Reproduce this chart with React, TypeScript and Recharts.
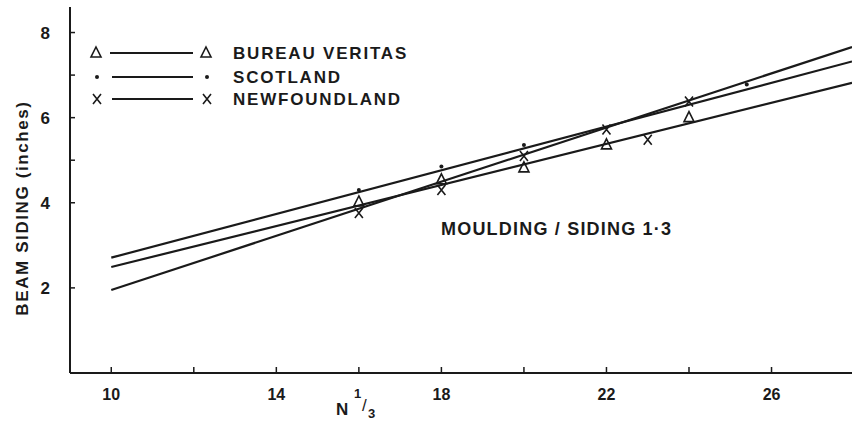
import React from 'react';
import { ComposedChart, Line, Scatter, XAxis, YAxis } from 'recharts';

// Fitted lines (N^1/3 vs beam siding, inches)
const bureauLine = [{ x: 10, y: 2.49 }, { x: 27.95, y: 6.82 }];
const scotlandLine = [{ x: 10, y: 2.71 }, { x: 27.95, y: 7.32 }];
const newfoundlandLine = [{ x: 10, y: 1.95 }, { x: 27.95, y: 7.66 }];

// Plotted data points
const bureauN = [16, 18, 20, 22, 24];
const bureauY = [4.02, 4.54, 4.82, 5.36, 6.0];
const scotlandN = [16, 18, 20, 25.4];
const scotlandY = [4.3, 4.85, 5.36, 6.78];
const newfoundlandN = [16, 18, 20, 22, 23, 24];
const newfoundlandY = [3.76, 4.3, 5.1, 5.72, 5.48, 6.38];

const xTicks = [10, 12, 14, 16, 18, 20, 22, 24, 26];
const xLabelled = [10, 14, 18, 22, 26];
const yTicks = [2, 4, 5, 6, 7, 8];
const yLabelled = [2, 4, 6, 8];

const legendItems = ['BUREAU VERITAS', 'SCOTLAND', 'NEWFOUNDLAND'];

const bureauPts = bureauN.map((x, i) => ({ x, y: bureauY[i] }));
const scotlandPts = scotlandN.map((x, i) => ({ x, y: scotlandY[i] }));
const newfoundlandPts = newfoundlandN.map((x, i) => ({ x, y: newfoundlandY[i] }));

const INK = '#1a1a1a';
const FONT = '"Liberation Sans", Arial, sans-serif';

const Tri = (props: any) => {
  const { cx, cy } = props;
  if (cx == null || cy == null) return <g />;
  return (
    <path
      d={`M${cx},${cy - 6} L${cx + 5},${cy + 4} L${cx - 5},${cy + 4} Z`}
      fill="none"
      stroke={INK}
      strokeWidth={1.6}
    />
  );
};
const Dot = (props: any) => {
  const { cx, cy } = props;
  if (cx == null || cy == null) return <g />;
  return <circle cx={cx} cy={cy} r={2} fill={INK} />;
};
const Cross = (props: any) => {
  const { cx, cy } = props;
  if (cx == null || cy == null) return <g />;
  return (
    <path
      d={`M${cx - 4},${cy - 5} L${cx + 4},${cy + 5} M${cx + 4},${cy - 5} L${cx - 4},${cy + 5}`}
      stroke={INK}
      strokeWidth={1.6}
    />
  );
};

export default function App() {
  const legendRowsY = [53, 77, 99];
  return (
    <div style={{ position: 'absolute', left: 0, top: 0, width: 852, height: 425, background: '#fff' }}>
      <ComposedChart width={852} height={425} margin={{ top: 7, right: 0, bottom: 0, left: 0 }}>
        <XAxis
          type="number"
          dataKey="x"
          domain={[9, 27.95]}
          allowDataOverflow
          ticks={xTicks}
          tickFormatter={(v: number) => (xLabelled.includes(v) ? String(v) : '')}
          height={52}
          tickSize={-6}
          tickMargin={22}
          stroke={INK}
          strokeWidth={2}
          tick={{ fill: INK, fontSize: 16, fontWeight: 'bold', fontFamily: FONT }}
          tickLine={{ stroke: INK, strokeWidth: 1.5 }}
        />
        <YAxis
          type="number"
          domain={[0, 8.6]}
          allowDataOverflow
          ticks={yTicks}
          tickFormatter={(v: number) => (yLabelled.includes(v) ? String(v) : '')}
          width={70}
          tickSize={-5}
          tickMargin={25}
          stroke={INK}
          strokeWidth={2}
          tick={{ fill: INK, fontSize: 17, fontWeight: 'bold', fontFamily: FONT }}
          tickLine={{ stroke: INK, strokeWidth: 1.5 }}
        />
        <Line data={scotlandLine} dataKey="y" stroke={INK} strokeWidth={2.2} dot={false} isAnimationActive={false} />
        <Line data={bureauLine} dataKey="y" stroke={INK} strokeWidth={2.2} dot={false} isAnimationActive={false} />
        <Line data={newfoundlandLine} dataKey="y" stroke={INK} strokeWidth={2.2} dot={false} isAnimationActive={false} />
        <Scatter data={bureauPts} dataKey="y" shape={<Tri />} isAnimationActive={false} />
        <Scatter data={scotlandPts} dataKey="y" shape={<Dot />} isAnimationActive={false} />
        <Scatter data={newfoundlandPts} dataKey="y" shape={<Cross />} isAnimationActive={false} />
      </ComposedChart>
      <svg width={852} height={425} style={{ position: 'absolute', left: 0, top: 0, pointerEvents: 'none' }}>
        {/* Legend */}
        <Tri cx={96} cy={legendRowsY[0]} />
        <line x1={110} y1={legendRowsY[0]} x2={193} y2={legendRowsY[0]} stroke={INK} strokeWidth={1.8} />
        <Tri cx={206} cy={legendRowsY[0]} />
        <Dot cx={97} cy={legendRowsY[1]} />
        <line x1={112} y1={legendRowsY[1]} x2={193} y2={legendRowsY[1]} stroke={INK} strokeWidth={1.8} />
        <Dot cx={207} cy={legendRowsY[1]} />
        <Cross cx={97} cy={legendRowsY[2]} />
        <line x1={112} y1={legendRowsY[2]} x2={193} y2={legendRowsY[2]} stroke={INK} strokeWidth={1.8} />
        <Cross cx={207} cy={legendRowsY[2]} />
        {legendItems.map((t, i) => (
          <text
            key={t}
            x={233}
            y={legendRowsY[i]}
            dy="0.36em"
            fontFamily={FONT}
            fontSize={17}
            fontWeight="bold"
            letterSpacing={1.8}
            fill={INK}
          >
            {t}
          </text>
        ))}
        {/* Annotation */}
        <text x={441} y={229} dy="0.36em" fontFamily={FONT} fontSize={18} fontWeight="bold" letterSpacing={1.2} fill={INK}>
          MOULDING / SIDING  1·3
        </text>
        {/* Y axis title */}
        <text
          transform="translate(22,208) rotate(-90)"
          textAnchor="middle"
          dy="0.36em"
          fontFamily={FONT}
          fontSize={17}
          fontWeight="bold"
          letterSpacing={1.6}
          fill={INK}
        >
          BEAM SIDING (inches)
        </text>
        {/* X axis title */}
        <text x={336} y={409} dy="0.36em" fontFamily={FONT} fontSize={17} fontWeight="bold" fill={INK}>
          N
        </text>
        <text x={354} y={393} dy="0.36em" fontFamily={FONT} fontSize={13} fontWeight="bold" fill={INK}>
          1
        </text>
        <text x={362} y={405} dy="0.36em" fontFamily={FONT} fontSize={17} fill={INK}>
          /
        </text>
        <text x={368} y={413} dy="0.36em" fontFamily={FONT} fontSize={13} fontWeight="bold" fill={INK}>
          3
        </text>
      </svg>
    </div>
  );
}
